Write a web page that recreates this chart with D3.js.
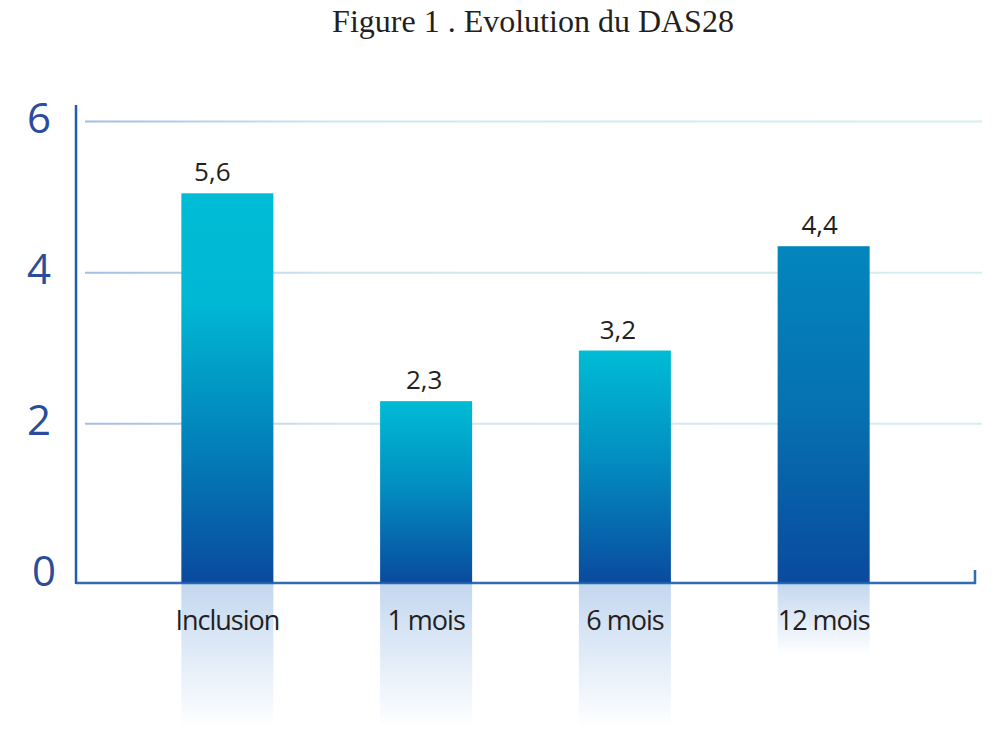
<!DOCTYPE html>
<html>
  <head>
    <meta charset="utf-8">
    <script src="https://d3js.org/d3.v7.min.js"></script>
    <title>Evolution du DAS28</title>
    <style>
      body {
        margin: 0px;
        background: #fff;
      }
      .title {
        font-family: 'Liberation Serif', 'Times New Roman', serif;
        font-size: 32px;
        fill: #231f20;
      }
      .ytick {
        font-family: 'Open Sans', sans-serif;
        font-size: 42px;
        fill: #2b4c9c;
      }
      .value {
        font-family: 'Open Sans', sans-serif;
        font-size: 26px;
        fill: #231f20;
      }
      .cat {
        font-family: 'Open Sans', sans-serif;
        font-size: 27px;
        letter-spacing: -1px;
        fill: #231f20;
      }
    </style>
  </head>
  <body>
    <svg width="1000" height="755"></svg>
    <script>

      const categories = ['Inclusion', '1 mois', '6 mois', '12 mois'];
      // bar heights as drawn in the figure
      const barValues = [5.05, 2.3, 2.97, 4.35];
      // labels printed above the bars
      const valueLabels = ['5,6', '2,3', '3,2', '4,4'];
      const yTickValues = [0, 2, 4, 6];
      const titleText = 'Figure 1 . Evolution du DAS28';

      // styling
      const barGradients = [
        [['0', '#00bcd5'], ['0.28', '#00b8d4'], ['0.62', '#0284bb'], ['1', '#0a4a9e']],
        [['0', '#00bcd5'], ['0.45', '#0290c2'], ['1', '#0a4a9e']],
        [['0', '#00bcd5'], ['0.45', '#0290c2'], ['1', '#0a4a9e']],
        [['0', '#0386bd'], ['0.5', '#0670b0'], ['1', '#0a4a9e']]
      ];
      const reflectDepth = [145, 145, 145, 72];
      const labelShift = [-15, -2, -7, -4];

      const svg = d3.select('svg');
      const axisLeftX = 76;
      const axisRightX = 975;
      const baseY = 583;

      const xScale = d3.scaleBand()
        .domain(categories)
        .range([axisLeftX, axisRightX])
        .paddingInner(0.537)
        .paddingOuter(0.53);

      const yScale = d3.scaleLinear()
        .domain([0, 6])
        .range([575, 121.5]);

      const defs = svg.append('defs');

      const gridGrad = defs.append('linearGradient')
          .attr('id', 'gridGrad')
          .attr('gradientUnits', 'userSpaceOnUse')
          .attr('x1', 85).attr('x2', 982)
          .attr('y1', 0).attr('y2', 0);
      gridGrad.append('stop').attr('offset', '0').attr('stop-color', '#a3bce2');
      gridGrad.append('stop').attr('offset', '0.28').attr('stop-color', '#d0e6ee');
      gridGrad.append('stop').attr('offset', '1').attr('stop-color', '#d6eeee');

      barGradients.forEach((stops, i) => {
        const gr = defs.append('linearGradient')
            .attr('id', 'barGrad' + i)
            .attr('x1', 0).attr('x2', 0)
            .attr('y1', 0).attr('y2', 1);
        stops.forEach(s => gr.append('stop')
            .attr('offset', s[0]).attr('stop-color', s[1]));
      });

      const reflGrad = defs.append('linearGradient')
          .attr('id', 'reflGrad')
          .attr('x1', 0).attr('x2', 0)
          .attr('y1', 0).attr('y2', 1);
      reflGrad.append('stop').attr('offset', '0').attr('stop-color', '#c3d7ef');
      reflGrad.append('stop').attr('offset', '0.4').attr('stop-color', '#dbe7f6');
      reflGrad.append('stop').attr('offset', '1').attr('stop-color', '#ffffff');

      svg.append('text')
          .attr('class', 'title')
          .attr('x', 533)
          .attr('y', 32)
          .attr('text-anchor', 'middle')
          .text(titleText);

      // gridlines
      svg.append('g').selectAll('line')
        .data(yTickValues.filter(d => d > 0))
        .enter().append('line')
          .attr('x1', 85)
          .attr('x2', 982)
          .attr('y1', d => yScale(d))
          .attr('y2', d => yScale(d))
          .attr('stroke', 'url(#gridGrad)')
          .attr('stroke-width', 2);

      // y tick labels
      svg.append('g').selectAll('text')
        .data(yTickValues)
        .enter().append('text')
          .attr('class', 'ytick')
          .attr('x', d => d === 0 ? 56 : 51)
          .attr('y', d => yScale(d) + 11)
          .attr('text-anchor', 'end')
          .text(d => d);

      // reflections under the axis
      svg.append('g').selectAll('rect')
        .data(categories)
        .enter().append('rect')
          .attr('x', d => xScale(d))
          .attr('y', baseY)
          .attr('width', xScale.bandwidth())
          .attr('height', (d, i) => reflectDepth[i])
          .attr('fill', 'url(#reflGrad)');

      // bars
      svg.append('g').selectAll('rect')
        .data(barValues)
        .enter().append('rect')
          .attr('x', (d, i) => xScale(categories[i]))
          .attr('y', d => yScale(d))
          .attr('width', xScale.bandwidth())
          .attr('height', d => baseY - yScale(d))
          .attr('fill', (d, i) => `url(#barGrad${i})`);

      // value labels
      svg.append('g').selectAll('text')
        .data(valueLabels)
        .enter().append('text')
          .attr('class', 'value')
          .attr('x', (d, i) => xScale(categories[i]) + xScale.bandwidth() / 2 + labelShift[i])
          .attr('y', (d, i) => yScale(barValues[i]) - 12)
          .attr('text-anchor', 'middle')
          .text(d => d);

      // category labels
      svg.append('g').selectAll('text')
        .data(categories)
        .enter().append('text')
          .attr('class', 'cat')
          .attr('x', d => xScale(d) + xScale.bandwidth() / 2)
          .attr('y', 630)
          .attr('text-anchor', 'middle')
          .text(d => d);

      // axes
      const axisColor = '#1f5eae';
      svg.append('line')
          .attr('x1', axisLeftX).attr('x2', axisLeftX)
          .attr('y1', 105).attr('y2', baseY + 1)
          .attr('stroke', axisColor)
          .attr('stroke-width', 2.5);
      svg.append('path')
          .attr('d', `M${axisLeftX},${baseY}H${axisRightX}V${baseY - 13}`)
          .attr('fill', 'none')
          .attr('stroke', axisColor)
          .attr('stroke-opacity', 0.92)
          .attr('stroke-width', 2.5);
    </script>
  </body>
</html>
